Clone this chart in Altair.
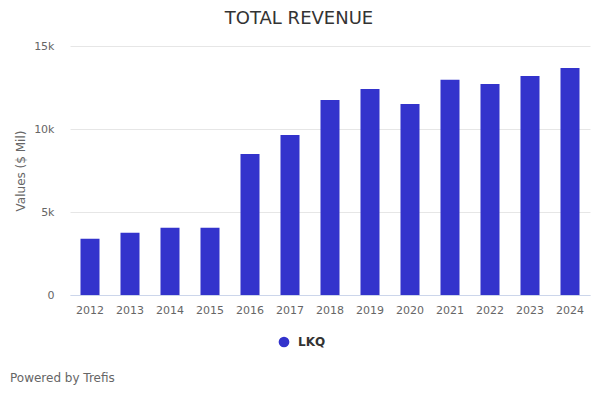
import altair as alt
import pandas as pd

years = ["2012", "2013", "2014", "2015", "2016", "2017", "2018", "2019", "2020", "2021", "2022", "2023", "2024"]
revenue = [3390, 3750, 4050, 4050, 8500, 9640, 11750, 12410, 11510, 12960, 12710, 13190, 13680]
series = ["LKQ"] * len(years)

df = pd.DataFrame({"year": years, "value": revenue, "series": series})

FONT = "DejaVu Sans"

bars = alt.Chart(df).mark_bar(color="#3333cc").encode(
    x=alt.X("year:N", title=None,
            scale=alt.Scale(paddingInner=0.525, paddingOuter=0.2625),
            axis=alt.Axis(labelAngle=0, labelColor="#666666", labelFontSize=11, labelFont=FONT,
                          ticks=False, domainColor="#ccd6eb", labelPadding=9, grid=False)),
    y=alt.Y("value:Q", title="Values ($ Mil)",
            scale=alt.Scale(domain=[0, 15000], nice=False),
            axis=alt.Axis(values=[0, 5000, 10000, 15000], labelExpr="datum.value == 0 ? '0' : (datum.value/1000) + 'k'",
                          labelColor="#666666", labelFontSize=11, labelFont=FONT, ticks=False, domain=False,
                          gridColor="#e6e6e6", labelPadding=16, titleColor="#666666", titleFontSize=12,
                          titleFont=FONT, titleFontWeight="normal", titlePadding=6)),
    fill=alt.Fill("series:N", scale=alt.Scale(range=["#3333cc"]),
                  legend=alt.Legend(title=None, orient="none", legendX=208, legendY=290,
                                    symbolType="circle", symbolSize=115, labelFont=FONT,
                                    labelFontSize=12, labelFontWeight="bold", labelColor="#333333",
                                    labelOffset=8, symbolStrokeWidth=0)),
)

credit = alt.Chart(pd.DataFrame({"t": ["Powered by Trefis"]})).mark_text(
    align="left", baseline="middle", font=FONT, fontSize=12, color="#666666"
).encode(x=alt.value(-60), y=alt.value(332), text="t:N")

chart = alt.layer(bars, credit).properties(
    width=520, height=249,
    padding={"left": 70, "top": 46, "right": 10, "bottom": 105},
    autosize=alt.AutoSizeParams(type="none"),
    title=alt.TitleParams("TOTAL REVENUE", font=FONT, fontSize=18, fontWeight="normal",
                          color="#333333", anchor="middle", dx=-31, offset=12),
).configure_view(stroke=None)

chart.save("out.html", embed_options={"renderer": "svg", "actions": False})
